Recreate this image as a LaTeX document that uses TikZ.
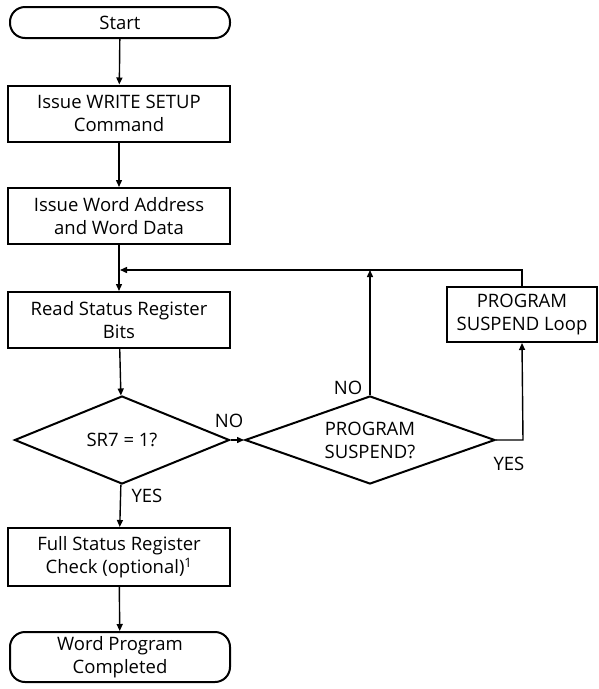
\documentclass[tikz,border=0pt]{standalone}
\usepackage{fontspec}
\setmainfont{Open Sans}
\usetikzlibrary{shapes.geometric,arrows.meta}

\tikzset{
  box/.style={draw,line width=2pt,minimum width=222,minimum height=56,inner sep=1pt,align=center},
  term/.style={draw,line width=2pt,rounded corners=15,minimum width=220,align=center,inner sep=1pt},
  decide/.style={draw,diamond,line width=2pt,aspect=2.45,inner sep=0pt,align=center},
  flow/.style={line width=1.4pt,-{Triangle[length=7pt,width=6pt]}},
  lbl/.style={inner sep=0pt}
}

\begin{document}
\begin{tikzpicture}[x=1pt,y=1pt,yscale=-1,font=\fontsize{18.5}{23}\selectfont]

\useasboundingbox (0,0) rectangle (598,689);

% main column
\node[term,minimum height=31] (start) at (120,22.5) {Start};
\node[box] (setup) at (119,113.5) {Issue WRITE SETUP\\Command};
\node[box] (addr) at (119,216) {Issue Word Address\\and Word Data};
\node[box] (read) at (119,320) {Read Status Register\\Bits};
\node[decide,minimum width=215,minimum height=88] (sr7) at (122,440) {SR7 = 1?};
\node[box,minimum height=58] (check) at (119,557) {Full Status Register\\Check (optional)\textsuperscript{1}};
\node[term,minimum height=50] (done) at (120,657) {Word Program\\Completed};

% suspend branch
\node[decide,minimum width=250,minimum height=88] (susp) at (370,440) {PROGRAM\\SUSPEND?};
\node[box,minimum width=150,minimum height=55] (loop) at (522,314.5) {PROGRAM\\SUSPEND Loop};

\coordinate (join) at (120,270);
\coordinate (corner) at (523,440);

\draw[flow] (start) -- (setup);
\draw[flow] (setup) -- (addr);
\draw[flow] (addr) -- (read);
\draw[flow] (read) -- (sr7);
\draw[flow] (sr7) -- (check);
\draw[flow] (check) -- (done);
\draw[flow] (sr7.east) -- (susp.west);
\draw[flow] (susp.north) -- (susp.north |- join);
\draw[flow] (susp.east) -- (corner) -- (loop.south);
\draw[flow] (loop.north) |- (join);

% labels
\node[lbl] (no1) at (229,421) {NO};
\node[lbl] (no2) at (348,388) {NO};
\node[lbl] (yes2) at (509,464) {YES};
\node[lbl] (yes1) at (147,496) {YES};

\end{tikzpicture}
\end{document}
